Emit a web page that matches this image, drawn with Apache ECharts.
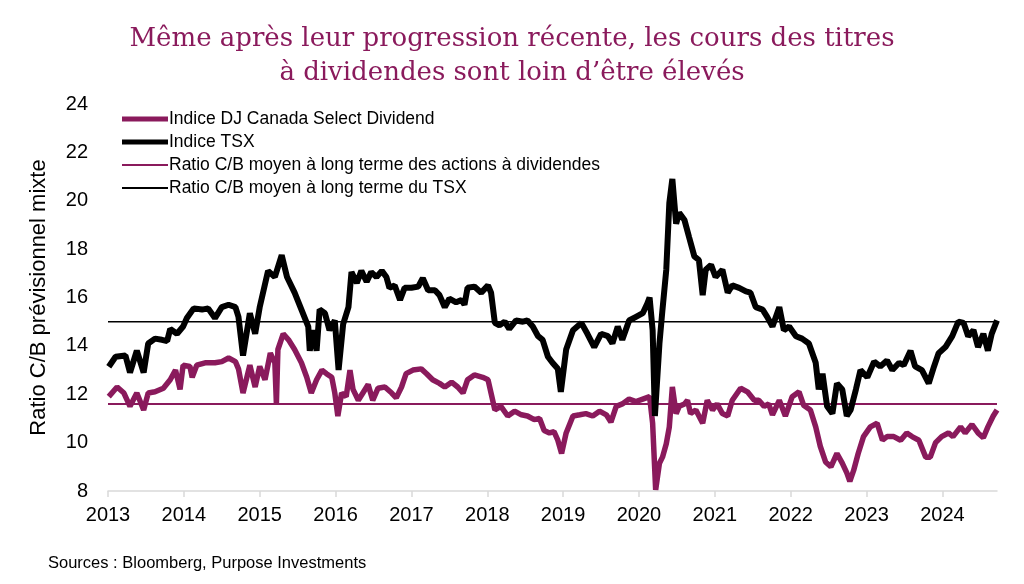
<!DOCTYPE html>
<html>
<head>
<meta charset="utf-8">
<script src="https://cdn.jsdelivr.net/npm/echarts@6/dist/echarts.min.js"></script>
<style>
html,body{margin:0;padding:0;background:#fff;}
#chart{width:1024px;height:584px;}
</style>
</head>
<body>
<div id="chart"></div>
<script>
// Decimal-year positions and values
var tsxT = [2013.01,2013.10,2013.23,2013.29,2013.38,2013.47,2013.53,2013.62,2013.71,2013.78,2013.82,2013.91,2013.99,2014.04,2014.13,2014.24,2014.32,2014.41,2014.50,2014.59,2014.68,2014.72,2014.78,2014.87,2014.94,2015.00,2015.11,2015.20,2015.29,2015.36,2015.46,2015.55,2015.64,2015.66,2015.71,2015.75,2015.79,2015.86,2015.92,2015.99,2016.04,2016.10,2016.17,2016.21,2016.28,2016.34,2016.41,2016.47,2016.54,2016.61,2016.67,2016.71,2016.78,2016.85,2016.91,2017.00,2017.09,2017.15,2017.22,2017.31,2017.37,2017.44,2017.50,2017.59,2017.66,2017.70,2017.74,2017.83,2017.92,2018.01,2018.05,2018.10,2018.16,2018.23,2018.29,2018.38,2018.47,2018.53,2018.60,2018.67,2018.73,2018.80,2018.86,2018.93,2018.97,2019.04,2019.13,2019.24,2019.32,2019.41,2019.50,2019.59,2019.65,2019.72,2019.78,2019.87,2019.96,2020.05,2020.11,2020.14,2020.18,2020.21,2020.27,2020.31,2020.36,2020.40,2020.44,2020.49,2020.53,2020.60,2020.66,2020.73,2020.79,2020.84,2020.88,2020.95,2021.01,2021.10,2021.17,2021.23,2021.32,2021.41,2021.47,2021.54,2021.63,2021.69,2021.76,2021.85,2021.91,2021.98,2022.07,2022.15,2022.24,2022.33,2022.37,2022.42,2022.48,2022.55,2022.61,2022.68,2022.74,2022.79,2022.86,2022.92,2023.01,2023.10,2023.18,2023.27,2023.34,2023.43,2023.49,2023.58,2023.64,2023.73,2023.82,2023.89,2023.95,2024.04,2024.13,2024.21,2024.28,2024.34,2024.41,2024.47,2024.54,2024.60,2024.65,2024.72];
var tsxV = [13.14,13.55,13.6,12.9,13.8,12.9,14.1,14.3,14.25,14.2,14.7,14.5,14.8,15.15,15.55,15.5,15.55,15.15,15.6,15.7,15.6,15.2,13.6,15.35,14.5,15.6,17.1,16.85,17.75,16.85,16.2,15.5,14.8,13.8,14.65,13.8,15.5,15.35,14.65,15.05,13.0,14.9,15.6,17.05,16.6,17.1,16.65,17.05,16.85,17.1,16.85,16.4,16.5,15.9,16.4,16.4,16.45,16.8,16.3,16.3,16.1,15.6,15.95,15.8,15.9,15.7,16.4,16.45,16.2,16.5,16.2,14.95,14.85,15.0,14.7,15.05,15.0,15.05,14.8,14.4,14.25,13.55,13.3,13.05,12.1,13.85,14.65,14.95,14.5,13.95,14.5,14.4,14.1,14.8,14.25,15.05,15.2,15.35,15.75,16.0,14.65,11.1,14.1,15.5,17.15,19.9,20.9,19.05,19.5,19.2,18.5,17.7,17.55,16.1,17.15,17.35,16.85,17.15,16.2,16.5,16.4,16.25,16.2,15.6,15.5,15.2,14.8,15.6,14.65,14.8,14.4,14.3,14.1,13.3,12.2,12.85,11.5,11.2,12.45,12.2,11.1,11.35,12.2,13.0,12.7,13.35,13.15,13.4,13.0,13.3,13.2,13.8,13.15,13.0,12.45,13.15,13.7,13.95,14.4,15.0,14.95,14.4,14.65,13.95,14.5,13.8,14.5,15.05];

var divT = [2013.01,2013.12,2013.21,2013.29,2013.38,2013.47,2013.53,2013.62,2013.73,2013.82,2013.89,2013.95,2013.99,2014.08,2014.11,2014.17,2014.28,2014.41,2014.50,2014.59,2014.68,2014.72,2014.78,2014.87,2014.94,2015.00,2015.07,2015.14,2015.20,2015.22,2015.24,2015.31,2015.38,2015.46,2015.55,2015.62,2015.68,2015.75,2015.82,2015.88,2015.95,2015.99,2016.03,2016.08,2016.14,2016.19,2016.23,2016.30,2016.36,2016.43,2016.49,2016.56,2016.65,2016.74,2016.80,2016.87,2016.93,2017.02,2017.13,2017.20,2017.28,2017.37,2017.44,2017.53,2017.61,2017.68,2017.74,2017.83,2017.94,2018.01,2018.05,2018.10,2018.18,2018.27,2018.36,2018.45,2018.53,2018.62,2018.69,2018.75,2018.82,2018.88,2018.93,2018.98,2019.04,2019.13,2019.22,2019.30,2019.39,2019.48,2019.57,2019.63,2019.70,2019.78,2019.87,2019.96,2020.05,2020.14,2020.18,2020.22,2020.27,2020.31,2020.36,2020.40,2020.44,2020.49,2020.53,2020.60,2020.64,2020.68,2020.75,2020.84,2020.90,2020.97,2021.03,2021.10,2021.17,2021.23,2021.34,2021.43,2021.52,2021.58,2021.65,2021.71,2021.76,2021.85,2021.93,2022.02,2022.11,2022.17,2022.26,2022.33,2022.39,2022.46,2022.53,2022.61,2022.68,2022.74,2022.78,2022.83,2022.89,2022.96,2023.05,2023.14,2023.21,2023.27,2023.36,2023.45,2023.53,2023.60,2023.69,2023.78,2023.84,2023.91,2023.99,2024.08,2024.14,2024.24,2024.30,2024.39,2024.47,2024.54,2024.60,2024.67,2024.72];
var divV = [11.9,12.3,12.05,11.5,12.05,11.35,12.05,12.1,12.25,12.6,13.0,12.2,13.2,13.15,12.7,13.2,13.3,13.3,13.35,13.5,13.35,13.05,12.05,13.2,12.3,13.15,12.6,13.7,13.3,11.6,13.85,14.5,14.25,13.85,13.3,12.7,12.05,12.6,13.0,12.85,12.7,12.05,11.1,12.05,11.9,13.0,12.2,11.75,12.05,12.4,11.75,12.25,12.3,12.05,11.85,12.3,12.85,13.0,13.05,12.85,12.6,12.45,12.3,12.5,12.3,12.05,12.6,12.8,12.7,12.6,12.05,11.35,11.5,11.1,11.3,11.15,11.1,10.95,11.0,10.5,10.4,10.45,10.1,9.55,10.4,11.1,11.15,11.2,11.1,11.3,11.15,10.85,11.5,11.6,11.8,11.7,11.8,11.9,10.8,8.05,9.15,9.4,9.95,10.65,12.3,11.2,11.5,11.6,11.75,11.2,11.35,10.8,11.75,11.35,11.6,11.2,11.1,11.75,12.25,12.1,11.75,11.75,11.5,11.6,11.15,11.75,11.1,11.9,12.1,11.55,11.35,10.65,9.85,9.2,9.0,9.55,9.15,8.75,8.4,8.85,9.55,10.25,10.65,10.8,10.1,10.25,10.25,10.1,10.4,10.25,10.1,9.4,9.4,10.0,10.25,10.4,10.25,10.65,10.4,10.75,10.4,10.2,10.65,11.1,11.35];

var tsxAvg = 15.0;
var divAvg = 11.6;
var xStart = 2013;
var xEnd = 2024.72;
var yearTicks = [2013,2014,2015,2016,2017,2018,2019,2020,2021,2022,2023,2024];
var seriesNames = [
  'Indice DJ Canada Select Dividend',
  'Indice TSX',
  'Ratio C/B moyen à long terme des actions à dividendes',
  'Ratio C/B moyen à long terme du TSX'
];

var PURPLE = '#8a1a5c';
function pairs(t, v){ return t.map(function(x,i){ return [x, v[i]]; }); }

var thickIcon = 'path://M0,0 L46,0 L46,5 L0,5 Z';
var thinIcon = 'path://M0,0 L46,0 L46,2 L0,2 Z';

var chart = echarts.init(document.getElementById('chart'), null, {renderer:'canvas'});
chart.setOption({
  animation:false,
  backgroundColor:'#ffffff',
  title:{
    text:'Même après leur progression récente, les cours des titres\nà dividendes sont loin d’être élevés',
    left:'center', top:17,
    textStyle:{fontFamily:'DejaVu Serif', fontSize:26, fontWeight:'normal', color:PURPLE, lineHeight:34}
  },
  graphic:[{
    type:'text', left:48, top:555,
    style:{text:'Sources : Bloomberg, Purpose Investments', font:'16.5px "Liberation Sans"', fill:'#000'}
  }],
  legend:{
    orient:'vertical', left:117, top:105, itemWidth:46, itemHeight:10, itemGap:5,
    data:[
      {name:seriesNames[0], icon:thickIcon, itemStyle:{color:PURPLE}},
      {name:seriesNames[1], icon:thickIcon, itemStyle:{color:'#000'}},
      {name:seriesNames[2], icon:thinIcon, itemStyle:{color:PURPLE}},
      {name:seriesNames[3], icon:thinIcon, itemStyle:{color:'#000'}}
    ],
    textStyle:{fontFamily:'Liberation Sans', fontSize:17.5, color:'#000', padding:[0,0,0,-4]}
  },
  grid:{left:108, right:27, top:104, bottom:93, containLabel:false},
  xAxis:{
    type:'value', min:xStart, max:xEnd,
    axisLine:{show:true, lineStyle:{color:'#d9d9d9', width:1.5}},
    axisTick:{show:true, customValues:yearTicks, length:6, inside:false, lineStyle:{color:'#d9d9d9', width:1.5}},
    axisLabel:{customValues:yearTicks, formatter:function(v){return String(Math.round(v));}, fontFamily:'Liberation Sans', fontSize:20, color:'#000', margin:14},
    splitLine:{show:false}
  },
  yAxis:{
    type:'value', min:8, max:24, interval:2,
    name:'Ratio C/B prévisionnel mixte', nameLocation:'middle', nameGap:58,
    nameTextStyle:{fontFamily:'Liberation Sans', fontSize:22, color:'#000'},
    axisLine:{show:false}, axisTick:{show:false}, splitLine:{show:false},
    axisLabel:{fontFamily:'Liberation Sans', fontSize:20, color:'#000', margin:20}
  },
  series:[
    {name:seriesNames[0], type:'line', data:pairs(divT, divV), showSymbol:false, symbol:'none',
     lineStyle:{color:PURPLE, width:5.5}, itemStyle:{color:PURPLE}, z:3},
    {name:seriesNames[1], type:'line', data:pairs(tsxT, tsxV), showSymbol:false, symbol:'none',
     lineStyle:{color:'#000', width:6}, itemStyle:{color:'#000'}, z:4},
    {name:seriesNames[2], type:'line', data:[[xStart, divAvg],[xEnd, divAvg]], showSymbol:false, symbol:'none',
     lineStyle:{color:PURPLE, width:2}, itemStyle:{color:PURPLE}, z:2},
    {name:seriesNames[3], type:'line', data:[[xStart, tsxAvg],[xEnd, tsxAvg]], showSymbol:false, symbol:'none',
     lineStyle:{color:'#000', width:1.5}, itemStyle:{color:'#000'}, z:2}
  ]
});
</script>
</body>
</html>
